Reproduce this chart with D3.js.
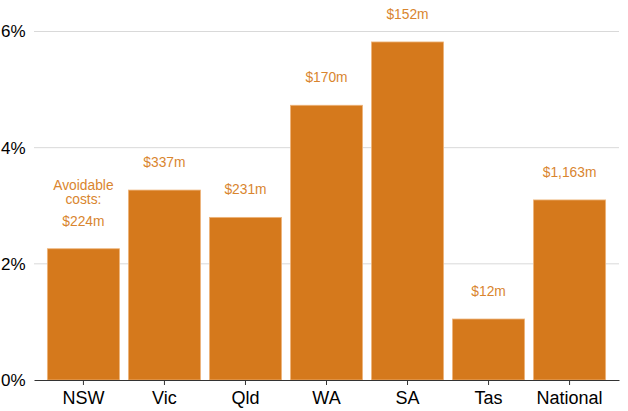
<!DOCTYPE html>
<html lang="en">
<head>
    <meta charset="UTF-8">
    <title>Avoidable costs by state</title>
    <script src="https://d3js.org/d3.v7.min.js"></script>
    <style>
        body{
            margin: 0;
            background-color: white;
        }
        #canvas text{
            font-family: "Liberation Sans", Arial, sans-serif;
        }
        .axis path, .axis line{
            stroke: #333;
        }
        .grid line{
            stroke: #d9d9d9;
        }
        .costLabel{
            fill: #d9852e;
            font-size: 13.8px;
        }
    </style>
</head>
<body>
    <svg id="canvas" width="628" height="411"></svg>
    <script>
        // chart values
        let states = ["NSW", "Vic", "Qld", "WA", "SA", "Tas", "National"];
        let sharePct = [2.26, 3.27, 2.80, 4.73, 5.82, 1.05, 3.10];
        let costLabels = ["$224m", "$337m", "$231m", "$170m", "$152m", "$12m", "$1,163m"];
        let yTicks = [0, 2, 4, 6];

        let svg = d3.select("#canvas");
        let left = 34, right = 619, bottom = 380;

        let xscale = d3.scaleBand()
            .domain(states)
            .range([left, right])
            .paddingInner(0.11)
            .paddingOuter(0.165);
        let yscale = d3.scaleLinear()
            .domain([0, 6])
            .range([bottom, 31.5]);

        // gridlines
        svg.append("g").attr("class", "grid")
            .selectAll("line")
            .data(yTicks.filter(function (d) { return d > 0 }))
            .enter()
            .append("line")
            .attr("x1", left)
            .attr("x2", right)
            .attr("y1", function (d) { return yscale(d) })
            .attr("y2", function (d) { return yscale(d) });

        // y tick labels (no axis line on the left)
        svg.append("g")
            .selectAll("text")
            .data(yTicks)
            .enter()
            .append("text")
            .attr("x", 25.5)
            .attr("y", function (d) { return yscale(d) })
            .attr("dy", "0.35em")
            .attr("text-anchor", "end")
            .attr("font-size", "17px")
            .attr("fill", "#000")
            .text(function (d) { return d + "%" });

        let data = states.map(function (s, i) {
            return {state: s, value: sharePct[i], label: costLabels[i]};
        });

        svg.append("g")
            .selectAll("rect")
            .data(data)
            .enter()
            .append("rect")
            .attr("x", function (d) { return xscale(d.state) })
            .attr("width", xscale.bandwidth())
            .attr("y", function (d) { return yscale(d.value) })
            .attr("height", function (d) { return bottom - yscale(d.value) })
            .attr("fill", "#d5791c")
            .attr("stroke", "#eeb57c")
            .attr("stroke-width", 0.8);

        // cost labels above bars
        let labels = svg.append("g");
        labels.selectAll("text")
            .data(data)
            .enter()
            .append("text")
            .attr("class", "costLabel")
            .attr("x", function (d) { return xscale(d.state) + xscale.bandwidth() / 2 })
            .attr("y", function (d) { return yscale(d.value) - 28 })
            .attr("dy", "0.35em")
            .attr("text-anchor", "middle")
            .text(function (d) { return d.label });

        // "Avoidable costs:" note over NSW
        let nswX = xscale("NSW") + xscale.bandwidth() / 2;
        let note = labels.append("text")
            .attr("class", "costLabel")
            .attr("text-anchor", "middle")
            .attr("x", nswX)
            .attr("y", yscale(sharePct[0]) - 64)
            .attr("dy", "0.35em");
        note.append("tspan").attr("x", nswX).text("Avoidable");
        note.append("tspan").attr("x", nswX).attr("dy", "14px").text("costs:");

        // x axis
        let xAxis = svg.append("g").attr("class", "axis")
            .attr("transform", `translate(0,${bottom})`)
            .call(d3.axisBottom(xscale).tickSize(5).tickSizeOuter(0));
        xAxis.select(".domain").attr("stroke", "#333");
        xAxis.selectAll(".tick line").attr("stroke", "#999");
        xAxis.selectAll("text")
            .attr("font-size", "18px")
            .attr("fill", "#000")
            .attr("dy", "0.9em");
    </script>
</body>
</html>
